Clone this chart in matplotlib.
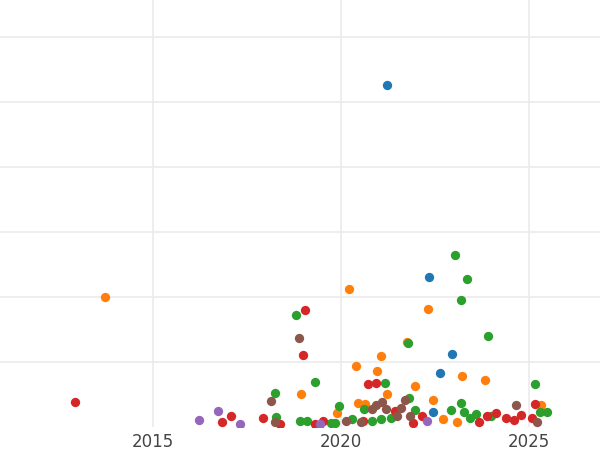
import matplotlib
matplotlib.use("Agg")
import matplotlib.pyplot as plt

# -----------------------------
# DATA (year, value) per series
# -----------------------------
blue_x = [2021.22, 2022.34, 2022.95, 2022.63, 2022.45]
blue_y = [5.26, 2.31, 1.12, 0.83, 0.23]

orange_x = [2013.72, 2020.21, 2022.31, 2020.40, 2021.06, 2020.96, 2023.22, 2023.83, 2018.94, 2021.97,
            2021.22, 2020.45, 2020.64, 2022.45, 2019.89, 2022.71, 2023.08, 2025.32, 2021.75]
orange_y = [2.00, 2.12, 1.82, 0.94, 1.09, 0.86, 0.78, 0.72, 0.51, 0.63,
            0.51, 0.37, 0.35, 0.42, 0.22, 0.12, 0.08, 0.34, 1.31]

green_x = [2023.03, 2023.35, 2023.19, 2018.80, 2021.78, 2023.91, 2019.31, 2018.24, 2021.17, 2021.81,
           2025.16, 2019.95, 2020.61, 2021.97, 2022.92, 2023.19, 2025.48, 2025.29, 2018.27, 2018.91,
           2019.10, 2020.29, 2020.82, 2021.06, 2021.33, 2023.27, 2023.43, 2023.59, 2023.99, 2019.73, 2019.84]
green_y = [2.65, 2.28, 1.95, 1.72, 1.29, 1.40, 0.69, 0.52, 0.68, 0.45,
           0.66, 0.32, 0.28, 0.26, 0.26, 0.37, 0.23, 0.23, 0.15, 0.09,
           0.09, 0.12, 0.09, 0.12, 0.14, 0.23, 0.14, 0.20, 0.17, 0.06, 0.06]

red_x = [2012.92, 2019.04, 2018.99, 2020.72, 2020.93, 2017.07, 2016.83, 2017.92, 2018.38, 2019.31,
         2019.52, 2021.44, 2021.91, 2022.15, 2023.67, 2023.88, 2024.12, 2024.39, 2024.60, 2024.79,
         2025.16, 2025.08, 2020.58]
red_y = [0.38, 1.80, 1.11, 0.66, 0.68, 0.17, 0.08, 0.14, 0.05, 0.05,
         0.09, 0.25, 0.06, 0.17, 0.08, 0.17, 0.22, 0.14, 0.11, 0.18,
         0.35, 0.14, 0.09]

purple_x = [2016.22, 2016.73, 2017.31, 2019.44, 2022.29]
purple_y = [0.11, 0.25, 0.05, 0.05, 0.09]

brown_x = [2018.88, 2018.14, 2018.24, 2021.09, 2020.82, 2021.20, 2020.93, 2021.49, 2021.70, 2021.60,
           2021.84, 2024.65, 2025.21, 2020.13, 2020.53]
brown_y = [1.37, 0.40, 0.08, 0.38, 0.28, 0.28, 0.34, 0.17, 0.42, 0.29,
           0.17, 0.34, 0.08, 0.09, 0.08]

series = [
    (blue_x, blue_y, "#1f77b4"),
    (orange_x, orange_y, "#ff7f0e"),
    (green_x, green_y, "#2ca02c"),
    (red_x, red_y, "#d62728"),
    (purple_x, purple_y, "#9467bd"),
    (brown_x, brown_y, "#8c564b"),
]

# -----------------------------
# PLOT
# -----------------------------
fig = plt.figure(figsize=(6, 4.5), dpi=100)
ax = fig.add_axes([0, 0.051, 1, 0.949])

for xs, ys, c in series:
    ax.scatter(xs, ys, s=45, color=c, linewidths=0, zorder=3)

ax.set_xlim(2010.93, 2026.89)
ax.set_ylim(0, 6.57)
ax.set_xticks([2015, 2020, 2025])
ax.set_yticks([1, 2, 3, 4, 5, 6])
ax.set_yticklabels([])
ax.grid(True, color="#ebebeb", linewidth=1.2, zorder=0)
ax.tick_params(length=0, labelsize=12, labelcolor="#444444", pad=4)
for s in ax.spines.values():
    s.set_visible(False)

fig.savefig("out.png")
